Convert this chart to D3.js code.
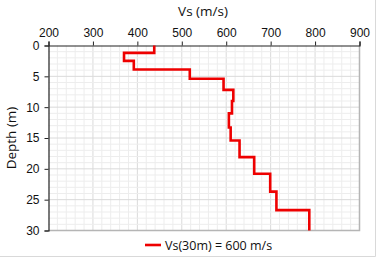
<!DOCTYPE html>
<html><head><meta charset="utf-8">
<script src="https://cdn.jsdelivr.net/npm/d3@7"></script>
<style>
html,body{margin:0;padding:0;background:#fff;}
svg{display:block;font-family:"Open Sans","Noto Sans",sans-serif;}
</style></head>
<body>
<svg id="c" width="376" height="257"></svg>
<script>
// Layer data
const layerTop    = [0, 1.2, 2.5, 3.9, 5.4, 7.2, 9.0, 11.0, 13.3, 15.4, 18.1, 20.8, 23.7, 26.7];
const layerBottom = [1.2, 2.5, 3.9, 5.4, 7.2, 9.0, 11.0, 13.3, 15.4, 18.1, 20.8, 23.7, 26.7, 30];
const layerVs     = [438, 370, 392, 518, 594, 616, 613, 606, 610, 630, 663, 699, 713, 787];
const xTicks = [200, 300, 400, 500, 600, 700, 800, 900];
const yTicks = [0, 5, 10, 15, 20, 25, 30];
const xTitle = "Vs (m/s)";
const yTitle = "Depth (m)";
const legendLabel = "Vs(30m) = 600 m/s";

const svg = d3.select("#c");
const m = {left: 48.5, right: 359.5, top: 45.5, bottom: 230.5};
const x = d3.scaleLinear().domain([200, 900]).range([m.left, m.right]);
const y = d3.scaleLinear().domain([0, 30]).range([m.top, m.bottom]);

// outer border (right and bottom edges visible)
svg.append("path").attr("d", "M375.5,0V256.5H0")
  .attr("fill", "none").attr("stroke", "#d9d9d9").attr("stroke-width", 1);

// minor grid
const g = svg.append("g");
g.selectAll("line.vx").data(d3.range(220, 900, 20)).join("line")
  .attr("x1", d => x(d)).attr("x2", d => x(d)).attr("y1", m.top).attr("y2", m.bottom)
  .attr("stroke", d => d % 100 === 0 ? "#dadada" : "#ededed").attr("stroke-width", 1);
g.selectAll("line.hy").data(d3.range(1, 30, 1)).join("line")
  .attr("y1", d => y(d)).attr("y2", d => y(d)).attr("x1", m.left).attr("x2", m.right)
  .attr("stroke", d => d % 5 === 0 ? "#dadada" : "#ededed").attr("stroke-width", 1);

// plot border right/bottom grey
svg.append("path")
  .attr("d", `M${m.right},${m.top}V${m.bottom}H${m.left}`)
  .attr("fill", "none").attr("stroke", "#b5b5b5").attr("stroke-width", 1.5);

// top axis
const xa = svg.append("g").attr("transform", `translate(0,${m.top})`)
  .call(d3.axisTop(x).tickValues(xTicks).tickSize(4).tickPadding(5));
xa.select(".domain").attr("stroke", "#222").attr("stroke-width", 1.2);
xa.selectAll(".tick line").attr("stroke", "#222");
xa.selectAll(".tick text").attr("font-size", 12).attr("fill", "#111");

// left axis
const ya = svg.append("g").attr("transform", `translate(${m.left},0)`)
  .call(d3.axisLeft(y).tickValues(yTicks).tickSize(4).tickPadding(5));
ya.select(".domain").attr("stroke", "#222").attr("stroke-width", 1.2);
ya.selectAll(".tick line").attr("stroke", "#222");
ya.selectAll(".tick text").attr("font-size", 12).attr("fill", "#111");

// titles
svg.append("text").attr("x", 203).attr("y", 16)
  .attr("text-anchor", "middle").attr("font-size", 13.5).attr("fill", "#111").text(xTitle);
svg.append("text").attr("transform", `translate(16,${(m.top + m.bottom) / 2}) rotate(-90)`)
  .attr("text-anchor", "middle").attr("font-size", 13.5).attr("fill", "#111").text(yTitle);

// profile
const pts = [];
layerVs.forEach((v, i) => { pts.push([v, layerTop[i]]); pts.push([v, layerBottom[i]]); });
svg.append("path").datum(pts)
  .attr("d", d3.line().x(d => x(d[0])).y(d => y(d[1])))
  .attr("fill", "none").attr("stroke", "#ee0000").attr("stroke-width", 2.6)
  .attr("stroke-linejoin", "miter");

// legend
svg.append("line").attr("x1", 145).attr("x2", 161).attr("y1", 245).attr("y2", 245)
  .attr("stroke", "#ee0000").attr("stroke-width", 2.6);
svg.append("text").attr("x", 165).attr("y", 249.5).attr("font-size", 12.5).attr("fill", "#111")
  .text(legendLabel);
</script>
</body></html>
